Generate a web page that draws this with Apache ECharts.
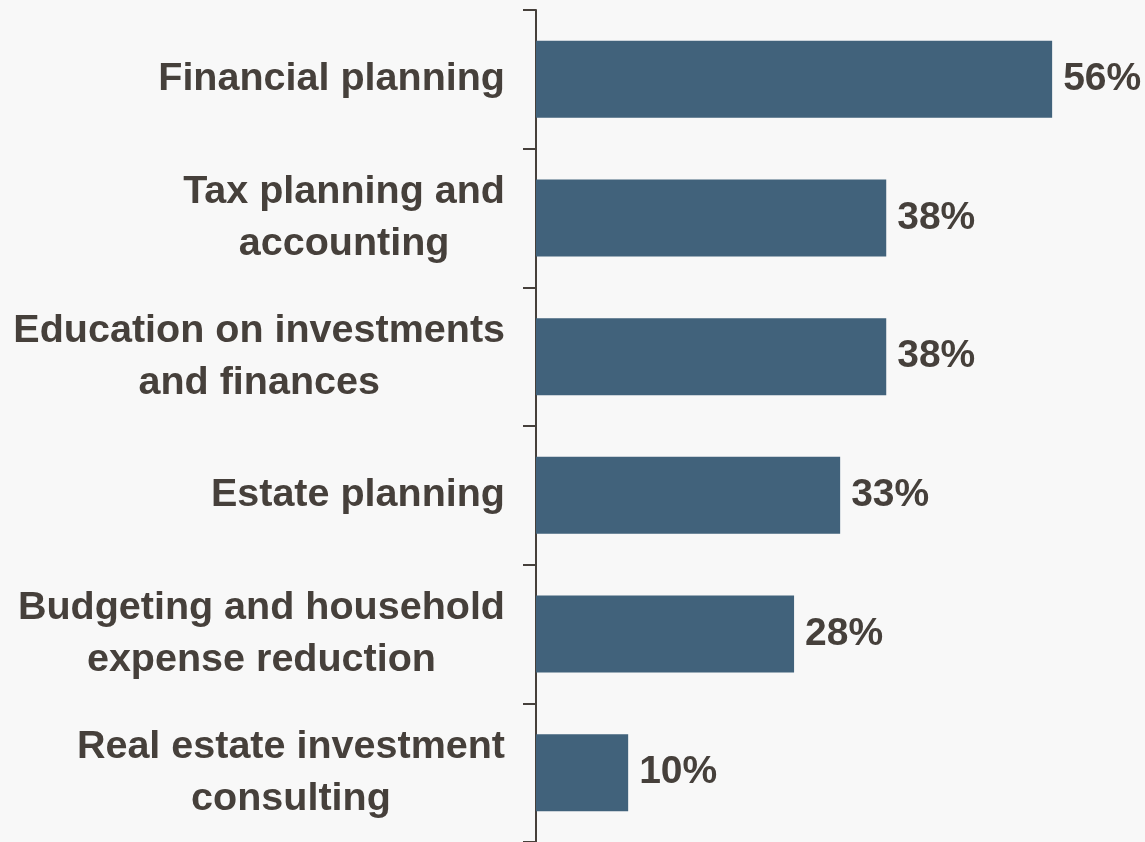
<!DOCTYPE html>
<html>
<head>
<meta charset="utf-8">
<script src="https://cdn.jsdelivr.net/npm/echarts@6/dist/echarts.min.js"></script>
<style>
  html, body { margin: 0; padding: 0; background: #f8f8f8; }
  #chart { width: 1145px; height: 842px; }
</style>
</head>
<body>
<div id="chart"></div>
<script>
// Services offered, share of respondents (%)
const categories = [
  'Financial planning',
  'Tax planning and\naccounting',
  'Education on investments\nand finances',
  'Estate planning',
  'Budgeting and household\nexpense reduction',
  'Real estate investment\nconsulting'
];
const shares = [56, 38, 38, 33, 28, 10];

const textColor = '#46403b';
const barColor = '#41627b';
const fontFamily = '"Liberation Sans", Arial, sans-serif';

const chart = echarts.init(document.getElementById('chart'), null, { renderer: 'canvas' });

chart.setOption({
  backgroundColor: '#f8f8f8',
  animation: false,
  grid: { left: 536, right: 56, top: 10, height: 834, containLabel: false },
  xAxis: {
    type: 'value',
    min: 0,
    max: 60,
    show: false,
    splitLine: { show: false }
  },
  yAxis: {
    type: 'category',
    data: categories,
    inverse: true,
    axisLine: { show: true, lineStyle: { color: textColor, width: 2 } },
    axisTick: { show: true, length: 13, lineStyle: { color: textColor, width: 2 } },
    axisLabel: {
      margin: 31,
      align: 'right',
      // each line centred within the right-aligned label block
      formatter: (v) => v.split('\n').map(l => '{c|' + l + '}').join('\n'),
      rich: {
        c: {
          align: 'center',
          fontFamily: fontFamily,
          fontWeight: 'bold',
          fontSize: 39.5,
          lineHeight: 52,
          color: textColor
        }
      }
    }
  },
  series: [{
    type: 'bar',
    data: shares,
    barWidth: 77,
    itemStyle: { color: barColor },
    label: {
      show: true,
      position: 'right',
      distance: 11,
      formatter: '{c}%',
      fontFamily: fontFamily,
      fontWeight: 'bold',
      fontSize: 39,
      color: textColor
    }
  }]
});
</script>
</body>
</html>
